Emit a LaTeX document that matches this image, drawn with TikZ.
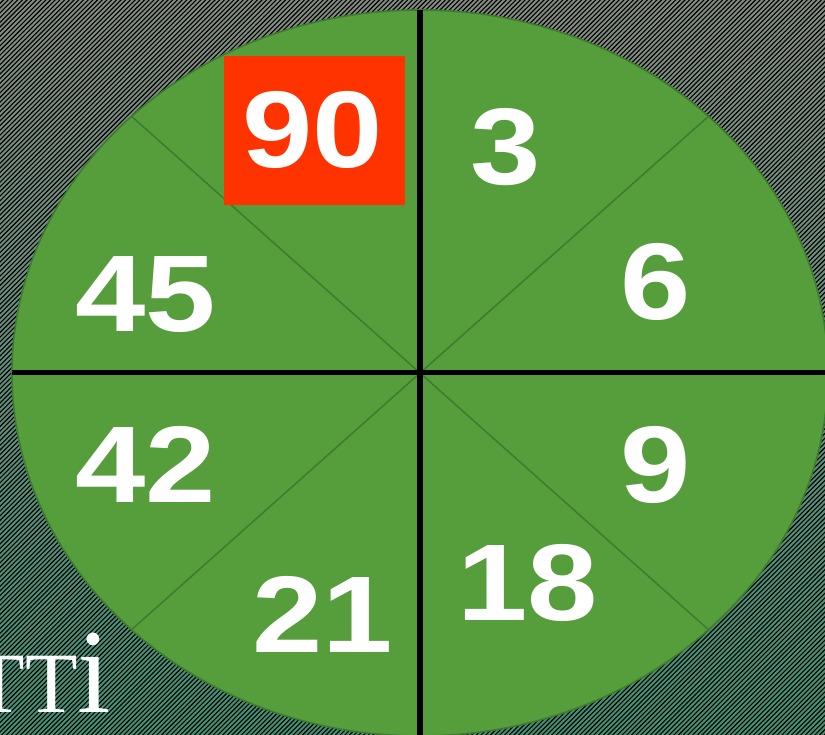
\documentclass[tikz,border=0pt]{standalone}
\usepackage{fontspec}
\setmainfont{Liberation Serif}
\newfontfamily\numfont{Liberation Sans}[FakeStretch=1.16]
\usetikzlibrary{calc}

\definecolor{fondo}{HTML}{848C82}
\definecolor{verde}{HTML}{559E3B}
\definecolor{borde}{HTML}{3F7B2F}
\definecolor{rojo}{HTML}{FF3300}

\begin{document}
\begin{tikzpicture}[x=1pt, y=-1pt, line width=0.7pt,
  num/.style={text=white, inner sep=0pt, anchor=base,
    font=\numfont\bfseries\fontsize{109}{120}\selectfont}]
  \useasboundingbox (0,0) rectangle (825,735);
  \clip (0,0) rectangle (825,735);
  % fondo rayado
  \shade[top color=fondo, bottom color=fondo!85!green!60!teal] (0,0) rectangle (825,735);
  \foreach \i in {-760,-755.3,...,830}
    \draw[black, line width=1.1pt] (\i,740) -- (\i+745,-5);
  % disco
  \coordinate (c) at (420,373);
  \fill[verde, draw=borde, line width=1.6pt] (c) ellipse [x radius=408, y radius=363];
  \coordinate (nw) at ($(c)+(-288.5,-256.7)$);
  \coordinate (ne) at ($(c)+(288.5,-256.7)$);
  \coordinate (sw) at ($(c)+(-288.5,256.7)$);
  \coordinate (se) at ($(c)+(288.5,256.7)$);
  \coordinate (top) at (420,10);
  \coordinate (bot) at (420,740);
  \coordinate (izq) at (12,373);
  \coordinate (der) at (830,373);
  % diagonales
  \draw[borde, line width=1.5pt] (nw) -- (se);
  \draw[borde, line width=1.5pt] (ne) -- (sw);
  % ejes
  \draw[black, line width=5.5pt] (top) -- (bot);
  \draw[black, line width=5pt] (izq) -- (der);
  % casilla marcada
  \fill[rojo] (224,56) rectangle (405,205);
  % numeros
  \node[num] (n90) at (313,168) {90};
  \node[num] (n3) at (506,185) {3};
  \node[num] (n6) at (656,320) {6};
  \node[num] (n45) at (146,332) {45};
  \node[num] (n42) at (146,502) {42};
  \node[num] (n9) at (656,502) {9};
  \node[num] (n18) at (528,620) {18};
  \node[num] (n21) at (323,652) {21};
  % texto cortado
  \node[text=white, inner sep=0pt, anchor=base west,
    font=\fontsize{86}{96}\selectfont] (txt) at (-27.5,712)
    {TT{\fontsize{120}{130}\selectfont i}};
\end{tikzpicture}
\end{document}
